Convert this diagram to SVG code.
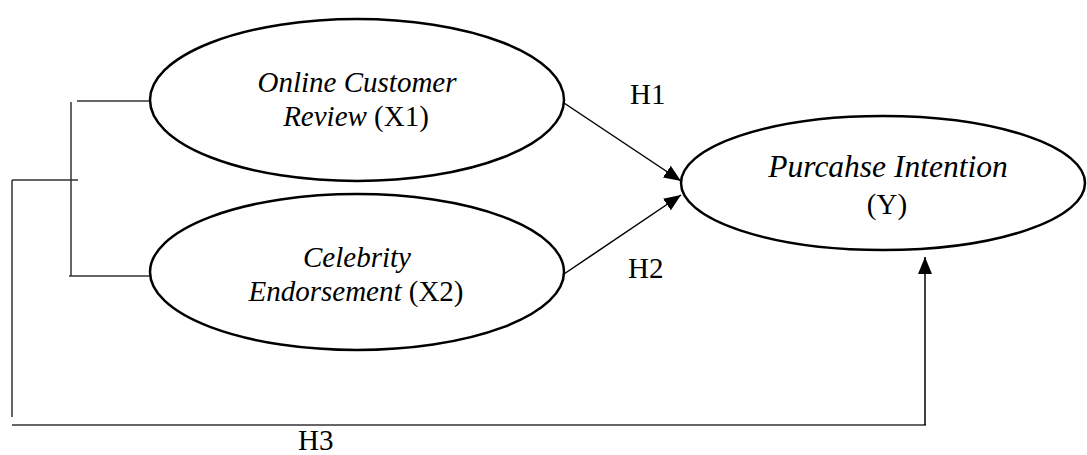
<svg xmlns="http://www.w3.org/2000/svg" width="1087" height="455" viewBox="0 0 1087 455">
<style>
.node{fill:#fff;stroke:#000;stroke-width:2.5}
.t{font-family:"Liberation Serif","Times New Roman",serif;font-size:29px;fill:#000}
.big{font-size:31.5px}
.i{font-style:italic}
.c{text-anchor:middle}
.ln{fill:none;stroke:#333;stroke-width:1.5}
.ar{fill:none;stroke:#000;stroke-width:1.5}
</style>
<defs>
<marker id="ah" markerUnits="userSpaceOnUse" markerWidth="18" markerHeight="14" refX="17" refY="7" orient="auto">
<path d="M0,0 L17,7 L0,14 Z" fill="#000"/>
</marker>
</defs>
<g id="connectors">
<path class="ln" d="M77,101 H150"/>
<path class="ln" d="M71,102 V276"/>
<path class="ln" d="M69,276 H150"/>
<path class="ln" d="M12,180 H78"/>
<path class="ln" d="M12,180 V417"/>
<path class="ln" d="M12,425 H926"/>
<path class="ar" d="M925,425 V257" marker-end="url(#ah)"/>
<path class="ar" d="M564,103 L681,181" marker-end="url(#ah)"/>
<path class="ar" d="M564,274 L681,195" marker-end="url(#ah)"/>
<text class="t" x="630" y="104">H1</text>
<text class="t" x="628" y="278">H2</text>
<text class="t" x="298" y="450">H3</text>
</g>
<g id="x1">
<ellipse class="node" cx="357" cy="100" rx="207" ry="81"/>
<text class="t i c" x="357" y="92">Online Customer</text>
<text class="t c" x="356" y="126"><tspan class="i">Review</tspan> (X1)</text>
</g>
<g id="x2">
<ellipse class="node" cx="357" cy="272" rx="207" ry="78"/>
<text class="t i c" x="357" y="267">Celebrity</text>
<text class="t c" x="356" y="301"><tspan class="i">Endorsement</tspan> (X2)</text>
</g>
<g id="y">
<ellipse class="node" cx="883" cy="183" rx="202" ry="67"/>
<text class="t i c big" x="888" y="177">Purcahse Intention</text>
<text class="t c" x="887" y="214">(Y)</text>
</g>
</svg>
